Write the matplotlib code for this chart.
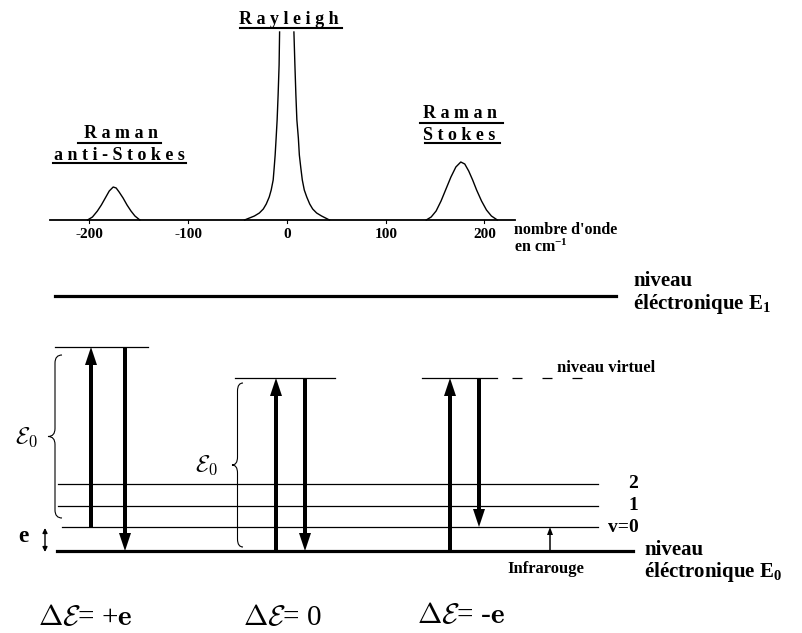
import numpy as np
import matplotlib.pyplot as plt
from matplotlib.path import Path
from matplotlib.patches import PathPatch

plt.rcParams['font.family'] = ['Liberation Serif', 'DejaVu Serif']
plt.rcParams['font.weight'] = 'bold'
plt.rcParams['mathtext.fontset'] = 'custom'
plt.rcParams['mathtext.rm'] = 'Liberation Serif'
plt.rcParams['mathtext.bf'] = 'Liberation Serif:bold'
plt.rcParams['mathtext.it'] = 'Liberation Serif:italic'

# --- spectrum (wavenumber in cm-1, intensity in arbitrary units) ---
tick_values = [-200, -100, 0, 100, 200]
antistokes_x = [-202, -197, -192, -188, -184, -180, -176, -173, -170, -166,
                -162, -158, -154, -149]
antistokes_y = [0, 3, 9, 15, 22, 29, 33, 32, 28, 22, 15, 9, 4, 0]
rayleigh_left_x = [-43, -38, -33, -28, -24, -21, -18, -16, -14, -13, -12,
                   -11, -10, -9, -8, -7.5]
rayleigh_left_y = [0, 2, 4, 7, 11, 16, 23, 30, 40, 52, 65, 82, 100, 125,
                   155, 188]
rayleigh_right_x = [7, 8, 9, 10, 11.5, 12.5, 14, 15.5, 17.5, 20, 23, 26, 30,
                    35, 39, 43]
rayleigh_right_y = [188, 155, 125, 100, 82, 65, 52, 40, 30, 23, 16, 11, 7, 4,
                    2, 0]
stokes_x = [141, 146, 151, 156, 161, 166, 171, 176, 180, 184, 188, 192, 197,
            202, 207, 213]
stokes_y = [0, 3, 9, 19, 31, 43, 53, 58, 56, 49, 40, 30, 19, 10, 4, 0]

# --- energy levels (arbitrary units, E0 = 0) ---
E0 = 0
v_levels = [24, 45, 67]          # v=0, 1, 2
virtual_left = 204
virtual_mid = 173
E1 = 255

fig = plt.figure(figsize=(8.03, 6.33), dpi=100)

# top panel: spectrum
ax = fig.add_axes([0, 1 - 260 / 633, 1, 260 / 633])
ax.set_xlim(-287 / 0.9875, 516 / 0.9875)
ax.set_ylim(-40, 220)
ax.axis('off')

ax.plot([-240, 231], [0, 0], color='black', lw=1.3)
for t in tick_values:
    ax.plot([t, t], [0, -2.5], color='black', lw=0.8)
    ax.text(t, -15, str(t), ha='center', va='center', fontsize=11)
ax.plot(antistokes_x, antistokes_y, color='black', lw=1)
ax.plot(rayleigh_left_x, rayleigh_left_y, color='black', lw=1)
ax.plot(rayleigh_right_x, rayleigh_right_y, color='black', lw=1)
ax.plot(stokes_x, stokes_y, color='black', lw=1)

def label(x, y, s, size=13):
    ax.text(x, y, s, ha='center', va='center', fontsize=size)

label(2, 201, 'R a y l e i g h')
ax.plot([-48, 56], [192, 192], color='black', lw=1.5)
label(-168, 86, 'R a m a n')
ax.plot([-212, -128], [77, 77], color='black', lw=1.5)
label(-170, 65, 'a n t i - S t o k e s')
ax.plot([-237, -102], [57, 57], color='black', lw=1.5)
label(175, 106, 'R a m a n')
ax.plot([135, 219], [97, 97], color='black', lw=1.5)
label(174, 85, 'S t o k e s')
ax.plot([140, 216], [77, 77], color='black', lw=1.5)
ax.text(230, -10, "nombre d'onde", ha='left', va='center', fontsize=11.5)
ax.text(230, -27, 'en cm$^{\\mathbf{-1}}$', ha='left', va='center',
        fontsize=11.5)

# bottom panel: energy diagram
ax2 = fig.add_axes([0, 0, 1, 373 / 633])
ax2.set_xlim(0, 803)
ax2.set_ylim(-82, 291)
ax2.axis('off')

ax2.plot([55, 616], [E1, E1], color='black', lw=2.3)
ax2.plot([57, 633], [E0, E0], color='black', lw=2.3)
for v, x0 in zip(v_levels, [62, 58, 58]):
    ax2.plot([x0, 598], [v, v], color='black', lw=0.9)
ax2.plot([55, 148], [virtual_left, virtual_left], color='black', lw=0.9)
ax2.plot([235, 335], [virtual_mid, virtual_mid], color='black', lw=0.9)
ax2.plot([422, 497], [virtual_mid, virtual_mid], color='black', lw=0.9)
ax2.plot([512, 592], [virtual_mid, virtual_mid], color='black', lw=0.9,
         ls=(0, (8, 16)))

def arrow(x, y0, y1, w=4, hw=12, hl=18):
    ax2.arrow(x, y0, 0, y1 - y0, width=w, head_width=hw, head_length=hl,
              length_includes_head=True, color='black', lw=0)

arrow(91, v_levels[0], virtual_left)
arrow(125, virtual_left, E0)
arrow(276, E0, virtual_mid)
arrow(305, virtual_mid, E0)
arrow(450, E0, virtual_mid)
arrow(479, virtual_mid, v_levels[0])
arrow(550, E0, v_levels[0], w=1.5, hw=6, hl=8)

def brace(x_r, x_tip, top, bottom):
    xm = (x_r + x_tip) / 2
    mid = (top + bottom) / 2
    r = 8
    verts = [(x_r, top), (xm, top), (xm, top - r),
             (xm, mid + r), (xm, mid), (x_tip, mid),
             (xm, mid), (xm, mid - r),
             (xm, bottom + r), (xm, bottom), (x_r, bottom)]
    codes = [Path.MOVETO, Path.CURVE3, Path.CURVE3,
             Path.LINETO, Path.CURVE3, Path.CURVE3,
             Path.CURVE3, Path.CURVE3,
             Path.LINETO, Path.CURVE3, Path.CURVE3]
    ax2.add_patch(PathPatch(Path(verts, codes), fill=False, lw=0.8,
                            color='black'))

brace(62, 48, 196, 33)
brace(243, 232, 168, 4)

ax2.text(27, 114, '$\\mathcal{E}_{0}$', ha='center', va='center',
         fontsize=17, math_fontfamily='cm')
ax2.text(207, 86, '$\\mathcal{E}_{0}$', ha='center', va='center',
         fontsize=17, math_fontfamily='cm')

ax2.text(23, 14, 'e', ha='center', va='center', fontsize=17)
ax2.annotate('', xy=(45, -1), xytext=(45, 23),
             arrowprops=dict(arrowstyle='<|-|>', color='black', lw=1,
                             mutation_scale=7, shrinkA=0, shrinkB=0))

ax2.text(638, v_levels[2], '2', ha='right', va='center', fontsize=14)
ax2.text(638, v_levels[1], '1', ha='right', va='center', fontsize=14)
ax2.text(639, v_levels[0], 'v=0', ha='right', va='center', fontsize=14)
ax2.text(557, virtual_mid + 10, 'niveau virtuel', ha='left', va='center',
         fontsize=12)
ax2.text(546, -18, 'Infrarouge', ha='center', va='center', fontsize=12)

ax2.text(633, 270, 'niveau', ha='left', va='center', fontsize=15)
ax2.text(633, 247, 'éléctronique E$_{\\mathbf{1}}$', ha='left', va='center',
         fontsize=15)
ax2.text(644, 1, 'niveau', ha='left', va='center', fontsize=15)
ax2.text(644, -21, 'éléctronique E$_{\\mathbf{0}}$', ha='left', va='center',
         fontsize=15)

ax2.text(38, -67, '$\\Delta\\mathcal{E}$= +$\\mathbf{e}$', ha='left',
         va='center', fontsize=21, fontweight='normal', math_fontfamily='cm')
ax2.text(243, -67, '$\\Delta\\mathcal{E}$= 0', ha='left', va='center',
         fontsize=21, fontweight='normal', math_fontfamily='cm')
ax2.text(417, -65, '$\\Delta\\mathcal{E}$= -$\\mathbf{e}$', ha='left',
         va='center', fontsize=21, fontweight='normal', math_fontfamily='cm')

fig.savefig('out.png', dpi=100)
